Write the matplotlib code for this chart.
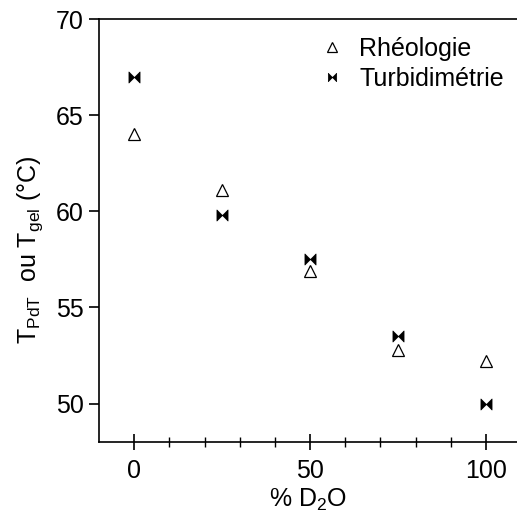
import matplotlib
matplotlib.use("Agg")
import matplotlib.pyplot as plt
from matplotlib.path import Path

plt.rcParams['font.family'] = ['Liberation Sans', 'DejaVu Sans']
plt.rcParams['mathtext.fontset'] = 'custom'
plt.rcParams['mathtext.rm'] = 'Liberation Sans'
plt.rcParams['mathtext.it'] = 'Liberation Sans:italic'

# data
d2o = [0, 25, 50, 75, 100]
rheologie = [64.0, 61.1, 56.9, 52.8, 52.2]
turbidimetrie = [67.0, 59.8, 57.5, 53.5, 50.0]

# bowtie marker
bowtie = Path([(-1, 1), (0, 0), (1, 1), (1, -1), (0, 0), (-1, -1), (-1, 1)],
              [Path.MOVETO] + [Path.LINETO] * 5 + [Path.CLOSEPOLY])

fig = plt.figure(figsize=(5.17, 5.14), dpi=100)
ax = fig.add_axes([0.1915, 0.140, 0.8085, 0.823])

ax.plot(d2o, rheologie, linestyle='none', marker='^', markersize=9,
        markerfacecolor='white', markeredgecolor='black', markeredgewidth=0.9,
        label='Rhéologie')
ax.plot(d2o, turbidimetrie, linestyle='none', marker=bowtie, markersize=8,
        markerfacecolor='black', markeredgecolor='black', markeredgewidth=0.5,
        label='Turbidimétrie')

ax.set_xlim(-10, 108.8)
ax.set_ylim(48, 70)
ax.set_xticks([0, 50, 100])
ax.set_xticks(range(0, 101, 10), minor=True)
ax.set_yticks([50, 55, 60, 65, 70])

ax.spines['right'].set_visible(False)
for s in ['left', 'top', 'bottom']:
    ax.spines[s].set_linewidth(1.2)

ax.tick_params(axis='x', which='major', direction='inout', length=12, width=1.2,
               labelsize=18, pad=6)
ax.tick_params(axis='x', which='minor', direction='inout', length=7, width=1.0)
ax.tick_params(axis='y', which='major', direction='out', length=7, width=1.2,
               labelsize=18, pad=4)

ax.set_xlabel('% D$_2$O', fontsize=18, labelpad=3)
ax.set_ylabel(r'T$_{\mathrm{PdT}}$  ou T$_{\mathrm{gel}}$ (°C)', fontsize=18, labelpad=8)
ax.yaxis.label.set_y(0.455)

ax.legend(loc='upper right', bbox_to_anchor=(1.01, 1.0), frameon=False,
          fontsize=18, handletextpad=0.6, labelspacing=0.25, handlelength=1.0,
          borderaxespad=0.3, markerscale=0.75)

fig.savefig('out.png', dpi=100)
